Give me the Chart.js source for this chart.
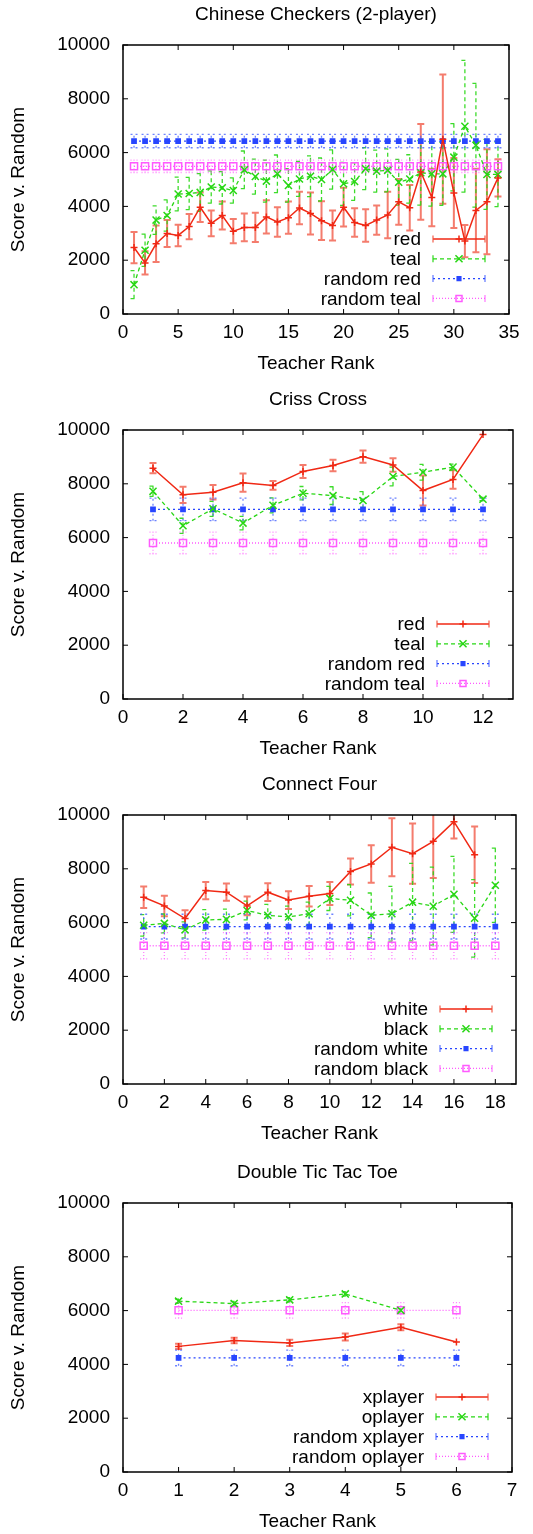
<!DOCTYPE html>
<html>
<head>
<meta charset="utf-8">
<script src="https://cdn.jsdelivr.net/npm/chart.js@4.4.1/dist/chart.umd.min.js"></script>
<style>
  html, body { margin: 0; padding: 0; background: #fff; width: 533px; height: 1534px; overflow: hidden; }
  .panel { position: absolute; left: 0; width: 533px; height: 386px; }
</style>
</head>
<body>
<div class="panel" style="top:-1px"><canvas id="chartCC" width="533" height="386"></canvas></div>
<div class="panel" style="top:384px"><canvas id="chartCriss" width="533" height="386"></canvas></div>
<div class="panel" style="top:769px"><canvas id="chartC4" width="533" height="386"></canvas></div>
<div class="panel" style="top:1157px"><canvas id="chartDttt" width="533" height="386"></canvas></div>

<script>
// ==========================
// DONNÉES
// ==========================
const yTicks = [0, 2000, 4000, 6000, 8000, 10000];

// --- Chinese Checkers (2-player)
const ranksCC = [1,2,3,4,5,6,7,8,9,10,11,12,13,14,15,16,17,18,19,20,21,22,23,24,25,26,27,28,29,30,31,32,33,34];
const xTicksCC = [0, 5, 10, 15, 20, 25, 30, 35];
const redCC = [2470,1900,2610,2990,2920,3250,3970,3370,3660,3080,3220,3220,3610,3420,3580,3940,3740,3470,3290,3970,3400,3290,3490,3680,4170,3950,5280,4330,6500,4500,2710,3850,4170,5060];
const redCCErr = [580,430,680,500,400,470,550,480,520,450,520,540,620,550,600,600,780,720,560,720,530,600,540,860,850,850,1780,1070,2400,1300,600,1550,1950,690];
const tealCC = [1090,2370,3490,3660,4460,4480,4520,4720,4690,4590,5360,5110,4940,5210,4780,5020,5120,5000,5370,4840,4925,5400,5310,5340,4900,5020,5250,5210,5210,5830,6980,6270,5190,5190];
const tealCCErr = [520,600,530,580,630,600,700,600,600,470,700,650,780,700,620,650,760,800,730,800,700,780,780,800,850,900,1200,1200,1170,1250,2450,2300,1300,1200];
const randRedCC = [6430,6430,6430,6430,6430,6430,6430,6430,6430,6430,6430,6430,6430,6430,6430,6430,6430,6430,6430,6430,6430,6430,6430,6430,6430,6430,6430,6430,6430,6430,6430,6430,6430,6430];
const randTealCC = [5490,5490,5490,5490,5490,5490,5490,5490,5490,5490,5490,5490,5490,5490,5490,5490,5490,5490,5490,5490,5490,5490,5490,5490,5490,5490,5490,5490,5490,5490,5490,5490,5490,5490];
const randRedCCErr = 250;
const randTealCCErr = 230;

// --- Criss Cross
const ranksCriss = [1,2,3,4,5,6,7,8,9,10,11,12];
const xTicksCriss = [0, 2, 4, 6, 8, 10, 12];
const redCriss = [8580,7590,7690,8040,7940,8460,8680,9010,8700,7750,8160,9830];
const redCrissErr = [190,300,270,340,160,240,210,230,250,560,340,0];
const tealCriss = [7720,6440,7070,6540,7200,7650,7560,7380,8270,8430,8620,7430];
const tealCrissErr = [190,280,280,250,280,250,330,330,350,290,110,60];
const randRedCriss = [7050,7050,7050,7050,7050,7050,7050,7050,7050,7050,7050,7050];
const randTealCriss = [5800,5800,5800,5800,5800,5800,5800,5800,5800,5800,5800,5800];
const randRedCrissErr = 420;
const randTealCrissErr = 400;

// --- Connect Four
const ranksC4 = [1,2,3,4,5,6,7,8,9,10,11,12,13,14,15,16,17,18];
const ranksC4White = [1,2,3,4,5,6,7,8,9,10,11,12,13,14,15,16,17];
const xTicksC4 = [0, 2, 4, 6, 8, 10, 12, 14, 16, 18];
const whiteC4 = [6940,6620,6150,7190,7130,6620,7130,6840,6980,7080,7900,8180,8800,8560,9020,9750,8520];
const whiteC4Err = [400,380,310,320,320,350,330,330,380,430,480,700,1080,1120,1360,620,1050];
const blackC4 = [5900,5970,5730,6100,6120,6450,6270,6210,6330,6900,6830,6270,6330,6760,6610,7050,6160,7390];
const blackC4Err = [400,350,300,380,380,350,410,400,430,450,580,830,1020,1440,1450,1410,1440,1380];
const randWhiteC4 = [5850,5850,5850,5850,5850,5850,5850,5850,5850,5850,5850,5850,5850,5850,5850,5850,5850,5850];
const randBlackC4 = [5140,5140,5140,5140,5140,5140,5140,5140,5140,5140,5140,5140,5140,5140,5140,5140,5140,5140];
const randWhiteC4Err = 460;
const randBlackC4Err = 490;

// --- Double Tic Tac Toe
const ranksDttt = [1,2,3,4,5,6];
const ranksDtttO = [1,2,3,4,5];
const xTicksDttt = [0, 1, 2, 3, 4, 5, 6, 7];
const xplayerDttt = [4670,4890,4800,5020,5380,4830];
const xplayerDtttErr = [100,100,120,130,110,0];
const oplayerDttt = [6350,6260,6400,6620,6010];
const oplayerDtttErr = [80,80,80,80,60];
const randXDttt = [4240,4240,4240,4240,4240,4240];
const randODttt = [6010,6010,6010,6010,6010,6010];
const randXDtttErr = 290;
const randODtttErr = 290;

// ==========================
// STYLES (façon gnuplot)
// ==========================
const FONT = { family: '"Liberation Sans", Arial, sans-serif', size: 19 };
const STYLES = [
  { color: "rgb(240,40,20)", err: "rgba(240,80,60,0.75)", width: 1.5, errWidth: 2, dash: [], point: "cross", radius: 3.5, fill: false },
  { color: "rgb(40,215,20)", err: "rgba(40,215,20,0.9)", width: 1.3, errWidth: 1.3, dash: [4, 3], point: "crossRot", radius: 5, fill: false },
  { color: "rgb(40,70,255)", err: "rgba(60,90,255,0.75)", width: 1.3, errWidth: 1.3, dash: [2, 3], point: "rect", radius: 3, fill: true },
  { color: "rgb(255,90,255)", err: "rgba(255,90,255,0.75)", width: 1.3, errWidth: 1.3, dash: [1, 2], point: "rect", radius: 5, fill: false },
];

/* =======================================================
   PLUGIN : barres d'erreur, cadre, ticks, titre, légende
======================================================= */
const gnuplotDecor = {
  id: "gnuplotDecor",
  beforeDatasetsDraw(chart) {
    const { ctx, chartArea: a, scales } = chart;
    ctx.save();
    ctx.beginPath();
    ctx.rect(a.left, a.top, a.right - a.left, a.bottom - a.top);
    ctx.clip();
    chart.data.datasets.forEach((ds, i) => {
      const st = STYLES[i];
      ctx.strokeStyle = st.err;
      ctx.lineWidth = st.errWidth;
      ctx.setLineDash(st.dash);
      ds.data.forEach((p, j) => {
        const e = Array.isArray(ds.errors) ? ds.errors[j] : ds.errors;
        if (!e) return;
        const x = scales.x.getPixelForValue(p.x);
        const y0 = scales.y.getPixelForValue(p.y - e);
        const y1 = scales.y.getPixelForValue(p.y + e);
        ctx.beginPath();
        ctx.moveTo(x, y0);
        ctx.lineTo(x, y1);
        ctx.moveTo(x - 3.5, y0);
        ctx.lineTo(x + 3.5, y0);
        ctx.moveTo(x - 3.5, y1);
        ctx.lineTo(x + 3.5, y1);
        ctx.stroke();
      });
    });
    ctx.restore();
  },
  afterDraw(chart, args, opts) {
    const { ctx, chartArea: a, scales } = chart;
    ctx.save();
    // cadre
    ctx.strokeStyle = "#000";
    ctx.lineWidth = 1.5;
    ctx.setLineDash([]);
    ctx.strokeRect(a.left, a.top, a.right - a.left, a.bottom - a.top);
    // ticks internes (miroir)
    ctx.lineWidth = 1;
    ctx.beginPath();
    scales.x.ticks.forEach((t) => {
      const x = scales.x.getPixelForValue(t.value);
      ctx.moveTo(x, a.bottom);
      ctx.lineTo(x, a.bottom - 5);
      ctx.moveTo(x, a.top);
      ctx.lineTo(x, a.top + 5);
    });
    scales.y.ticks.forEach((t) => {
      const y = scales.y.getPixelForValue(t.value);
      ctx.moveTo(a.left, y);
      ctx.lineTo(a.left + 5, y);
      ctx.moveTo(a.right, y);
      ctx.lineTo(a.right - 5, y);
    });
    ctx.stroke();
    // titre
    ctx.fillStyle = "#000";
    ctx.font = `${FONT.size}px ${FONT.family}`;
    ctx.textAlign = "center";
    ctx.textBaseline = "middle";
    ctx.fillText(opts.title, (a.left + a.right) / 2, a.top - 30);
    // légende (bas droite, dans le cadre)
    chart.data.datasets.forEach((ds, i) => {
      const st = STYLES[i];
      const y = a.bottom - 75 + i * 19.8;
      const x0 = a.right - 76;
      const x1 = a.right - 24;
      ctx.fillStyle = "#000";
      ctx.textAlign = "right";
      ctx.fillText(ds.label, a.right - 88, y + 1);
      ctx.strokeStyle = st.color;
      ctx.lineWidth = st.width;
      ctx.setLineDash(st.dash);
      ctx.beginPath();
      ctx.moveTo(x0, y);
      ctx.lineTo(x1, y);
      ctx.stroke();
      ctx.strokeStyle = st.err;
      ctx.setLineDash([]);
      ctx.beginPath();
      ctx.moveTo(x0, y - 3.5);
      ctx.lineTo(x0, y + 3.5);
      ctx.moveTo(x1, y - 3.5);
      ctx.lineTo(x1, y + 3.5);
      ctx.stroke();
      ctx.strokeStyle = st.color;
      ctx.fillStyle = st.fill ? st.color : "rgba(0,0,0,0)";
      ctx.lineWidth = 1.5;
      Chart.helpers.drawPoint(
        ctx,
        { pointStyle: st.point, radius: st.point === "rect" ? st.radius * 0.85 : st.radius, rotation: 0, borderWidth: 1.5 },
        (x0 + x1) / 2,
        y
      );
    });
    ctx.restore();
  },
};

function buildDataset(label, ranks, values, errors, idx) {
  const st = STYLES[idx];
  return {
    label,
    data: ranks.map((r, i) => ({ x: r, y: values[i] })),
    errors,
    showLine: true,
    borderColor: st.color,
    borderWidth: st.width,
    borderDash: st.dash,
    pointStyle: st.point,
    pointRadius: st.radius,
    pointBorderWidth: 1.5,
    pointBorderColor: st.color,
    pointBackgroundColor: st.fill ? st.color : "rgba(0,0,0,0)",
    tension: 0,
  };
}

function makeChart(id, title, xMax, xTicks, rightEdge, datasets) {
  const ctx = document.getElementById(id);
  return new Chart(ctx, {
    type: "scatter",
    data: { datasets },
    plugins: [gnuplotDecor],
    options: {
      responsive: false,
      animation: false,
      devicePixelRatio: 1,
      layout: { padding: { top: 46, left: 0, right: 533 - rightEdge, bottom: 0 } },
      plugins: {
        legend: { display: false },
        tooltip: { enabled: false },
        gnuplotDecor: { title },
      },
      scales: {
        x: {
          type: "linear",
          min: 0,
          max: xMax,
          afterBuildTicks: (s) => { s.ticks = xTicks.map((v) => ({ value: v })); },
          afterFit: (s) => { s.height = 71; },
          grid: { display: false, drawTicks: false },
          border: { display: false },
          ticks: { padding: 7, color: "#000", font: FONT, maxRotation: 0, callback: (v) => String(v) },
          title: { display: true, text: "Teacher Rank", color: "#000", font: FONT, padding: { top: 0, bottom: 10 } },
        },
        y: {
          type: "linear",
          min: 0,
          max: 10000,
          afterBuildTicks: (s) => { s.ticks = yTicks.map((v) => ({ value: v })); },
          afterFit: (s) => { s.width = 123; },
          grid: { display: false, drawTicks: false },
          border: { display: false },
          ticks: { padding: 13, color: "#000", font: FONT, callback: (v) => String(v) },
          title: { display: true, text: "Score v. Random", color: "#000", font: FONT, padding: { top: 7, bottom: 0 } },
        },
      },
    },
  });
}

/* =======================================================
   INIT
======================================================= */
makeChart("chartCC", "Chinese Checkers (2-player)", 35, xTicksCC, 509, [
  buildDataset("red", ranksCC, redCC, redCCErr, 0),
  buildDataset("teal", ranksCC, tealCC, tealCCErr, 1),
  buildDataset("random red", ranksCC, randRedCC, randRedCCErr, 2),
  buildDataset("random teal", ranksCC, randTealCC, randTealCCErr, 3),
]);

makeChart("chartCriss", "Criss Cross", 13, xTicksCriss, 513, [
  buildDataset("red", ranksCriss, redCriss, redCrissErr, 0),
  buildDataset("teal", ranksCriss, tealCriss, tealCrissErr, 1),
  buildDataset("random red", ranksCriss, randRedCriss, randRedCrissErr, 2),
  buildDataset("random teal", ranksCriss, randTealCriss, randTealCrissErr, 3),
]);

makeChart("chartC4", "Connect Four", 19, xTicksC4, 516, [
  buildDataset("white", ranksC4White, whiteC4, whiteC4Err, 0),
  buildDataset("black", ranksC4, blackC4, blackC4Err, 1),
  buildDataset("random white", ranksC4, randWhiteC4, randWhiteC4Err, 2),
  buildDataset("random black", ranksC4, randBlackC4, randBlackC4Err, 3),
]);

makeChart("chartDttt", "Double Tic Tac Toe", 7, xTicksDttt, 512, [
  buildDataset("xplayer", ranksDttt, xplayerDttt, xplayerDtttErr, 0),
  buildDataset("oplayer", ranksDtttO, oplayerDttt, oplayerDtttErr, 1),
  buildDataset("random xplayer", ranksDttt, randXDttt, randXDtttErr, 2),
  buildDataset("random oplayer", ranksDttt, randODttt, randODtttErr, 3),
]);
</script>
</body>
</html>
